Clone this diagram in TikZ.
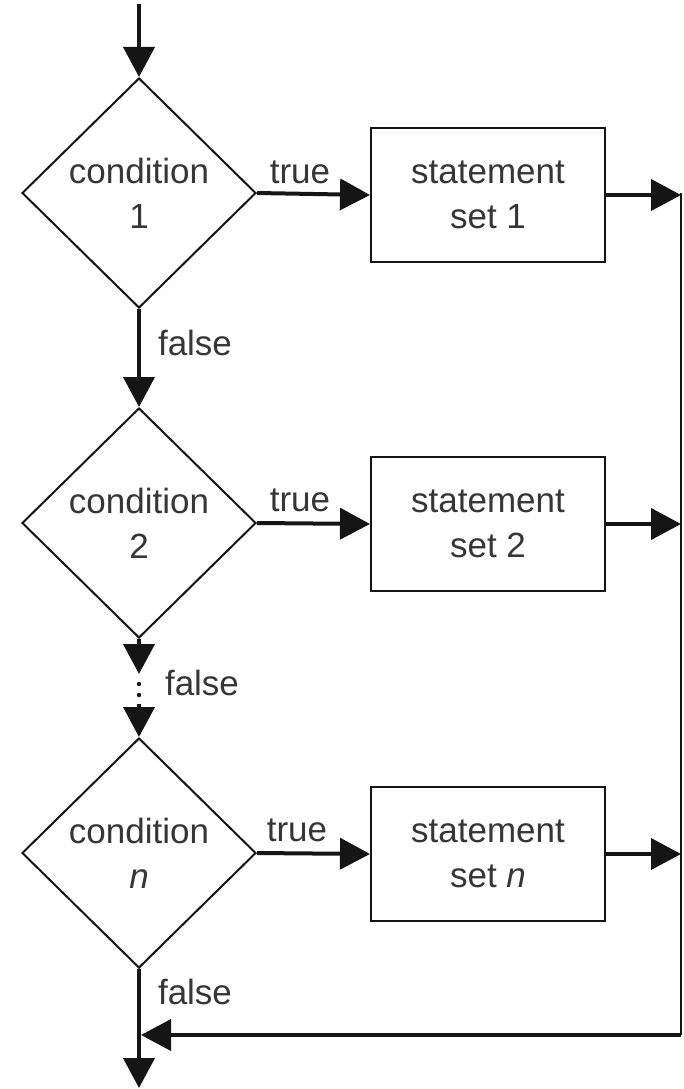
\documentclass[tikz,border=0pt]{standalone}
\usepackage{fontspec}
\setmainfont{Liberation Sans}
\usetikzlibrary{shapes.geometric,arrows.meta}
\definecolor{inkline}{HTML}{151515}
\definecolor{inktext}{HTML}{363636}
\tikzset{
  decision/.style={diamond, draw=inkline, line width=2pt, inner sep=0pt,
    minimum width=234pt, minimum height=230pt, text=inktext, align=center,
    font=\fontsize{35}{45}\selectfont},
  action/.style={rectangle, draw=inkline, line width=2pt, inner sep=0pt,
    minimum width=234pt, minimum height=134pt, text=inktext, align=center,
    font=\fontsize{35}{45}\selectfont},
  flow/.style={draw=inkline, line width=4pt,
    -{Triangle[length=30pt,width=31pt]}},
  lbl/.style={text=inktext, font=\fontsize{35}{42}\selectfont, inner sep=0pt}
}
\begin{document}
\begin{tikzpicture}[x=1pt,y=-1pt]
\useasboundingbox (0,0) rectangle (683,1089);
\fill[white] (0,0) rectangle (683,1089);

% decisions
\node[decision] (c1) at (139,193) {condition\\1};
\node[decision] (c2) at (139,523) {condition\\2};
\node[decision] (cn) at (139,853) {condition\\\textit{n}};

% statement sets
\node[action] (s1) at (488,195) {statement\\set 1};
\node[action] (s2) at (488,524) {statement\\set 2};
\node[action] (sn) at (488,854) {statement\\set \textit{n}};

% entry
\coordinate (in) at (139,4);
\draw[flow] (in) -- (c1.north);

% true branches
\draw[flow] (c1.east) -- (s1.west);
\draw[flow] (c2.east) -- (s2.west);
\draw[flow] (cn.east) -- (sn.west);
\node[lbl] (t1) at (300,172) {true};
\node[lbl] (t2) at (300,500) {true};
\node[lbl] (tn) at (297,830) {true};

% false branches
\draw[flow] (c1.south) -- (c2.north);
\node[lbl] (f1) at (195,343) {false};

\coordinate (gapa) at (139,674);
\coordinate (gapb) at (139,704);
\draw[flow] (c2.south) -- (gapa);
\fill[inkline] (139,684) circle (2.2pt);
\fill[inkline] (139,695) circle (2.2pt);
\draw[flow] (gapb) -- (cn.north);
\node[lbl] (f2) at (202,683) {false};

\coordinate (out) at (139,1088);
\draw[flow] (cn.south) -- (out);
\node[lbl] (fn) at (195,992) {false};

% collector on the right
\coordinate (r1) at (681,195);
\coordinate (r2) at (681,524);
\coordinate (rn) at (681,854);
\coordinate (rt) at (681,193);
\coordinate (rb) at (681,1035);
\coordinate (jn) at (141,1035);
\draw[flow] (s1.east) -- (r1);
\draw[flow] (s2.east) -- (r2);
\draw[flow] (sn.east) -- (rn);
\draw[line width=2.5pt, draw=inkline] (rt) -- (rb);
\draw[flow] (rb) -- (jn);
\end{tikzpicture}
\end{document}
